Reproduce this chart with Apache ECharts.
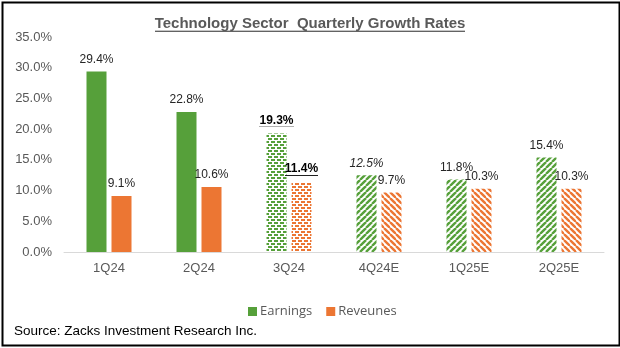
<!DOCTYPE html>
<html>
<head>
<meta charset="utf-8">
<script src="https://cdn.jsdelivr.net/npm/echarts@6/dist/echarts.min.js"></script>
<style>
  html, body { margin: 0; padding: 0; background: #fff; }
  #chart { width: 620px; height: 348px; }
</style>
</head>
<body>
<div id="chart"></div>
<script>
// Quarterly growth rates for the technology sector (%)
const quarters = ['1Q24', '2Q24', '3Q24', '4Q24E', '1Q25E', '2Q25E'];
const earnings = [29.4, 22.8, 19.3, 12.5, 11.8, 15.4];
const revenues = [9.1, 10.6, 11.4, 9.7, 10.3, 10.3];
const yTicks = [0, 5, 10, 15, 20, 25, 30, 35];

// fill style per quarter: reported, current-quarter blend, estimate
const fillKind = ['solid', 'solid', 'dots', 'stripe', 'stripe', 'stripe'];

const GREEN = '#56a03a';
const ORANGE = '#ec7633';

function stripePattern(color, dir) {
  const n = 6;
  const c = document.createElement('canvas');
  c.width = n; c.height = n;
  const ctx = c.getContext('2d');
  ctx.fillStyle = '#fff';
  ctx.fillRect(0, 0, n, n);
  ctx.strokeStyle = color;
  ctx.lineWidth = 2.4;
  for (let k = -n; k <= n; k += n) {
    ctx.beginPath();
    if (dir === '/') { ctx.moveTo(k, n); ctx.lineTo(k + n, 0); }
    else { ctx.moveTo(k, 0); ctx.lineTo(k + n, n); }
    ctx.stroke();
  }
  return { image: c, repeat: 'repeat' };
}

function dotPattern(color) {
  const n = 6;
  const c = document.createElement('canvas');
  c.width = n; c.height = n;
  const ctx = c.getContext('2d');
  ctx.fillStyle = '#fff';
  ctx.fillRect(0, 0, n, n);
  ctx.fillStyle = color;
  [[0, 0], [3, 3], [3, 0], [0, 3]].forEach(([x, y], i) => {
    const dx = (i >= 2) ? 1 : 0;
    ctx.fillRect(x + dx, y, 2, 2);
  });
  return { image: c, repeat: 'repeat' };
}

function underlineImage(color, h, thick) {
  const c = document.createElement('canvas');
  c.width = 8; c.height = h;
  const ctx = c.getContext('2d');
  ctx.fillStyle = color;
  ctx.fillRect(0, h - thick, 8, thick);
  return { image: c };
}

function fillFor(kind, color, dir) {
  if (kind === 'dots') return dotPattern(color);
  if (kind === 'stripe') return stripePattern(color, dir);
  return color;
}

function makeData(values, color, dir) {
  return values.map((v, i) => ({
    value: v,
    itemStyle: { color: fillFor(fillKind[i], color, dir) }
  }));
}

const labelRich = {
  n: { fontFamily: 'Liberation Sans, Arial', fontSize: 12, color: '#262626' },
  b: { fontFamily: 'Liberation Sans, Arial', fontSize: 12, color: '#000', fontWeight: 'bold',
       backgroundColor: underlineImage('#000', 16, 1), padding: [0, 0, 1, 0] },
  i: { fontFamily: 'Liberation Sans, Arial', fontSize: 12, color: '#262626', fontStyle: 'italic' }
};

function labelFormatter(series) {
  return function (p) {
    const txt = p.value.toFixed(1) + '%';
    if (fillKind[p.dataIndex] === 'dots') return '{b|' + txt + '}';
    if (series === 'e' && p.dataIndex === 3) return '{i|' + txt + '}';
    return '{n|' + txt + '}';
  };
}

const chart = echarts.init(document.getElementById('chart'), null, { renderer: 'canvas' });

chart.setOption({
  animation: false,
  backgroundColor: '#fff',
  title: {
    text: '{t|Technology Sector  Quarterly Growth Rates}',
    left: 'center',
    top: 11,
    textStyle: {
      rich: {
        t: { fontFamily: 'Liberation Sans, Arial', fontSize: 15, fontWeight: 'bold', color: '#595959',
             backgroundColor: underlineImage('#595959', 19, 1.5),
             padding: [0, 0, 1, 0] }
      }
    }
  },
  grid: { left: 64, right: 16, top: 37, bottom: 96 },
  legend: {
    top: 300,
    left: 243,
    itemWidth: 9,
    itemHeight: 9,
    itemGap: 14,
    icon: 'rect',
    textStyle: { fontFamily: 'Open Sans, Lato, sans-serif', fontSize: 13, color: '#595959', padding: [0, 0, 0, -2] },
    data: [
      { name: 'Earnings', itemStyle: { color: GREEN } },
      { name: 'Reveunes', itemStyle: { color: ORANGE } }
    ]
  },
  xAxis: {
    type: 'category',
    data: quarters,
    axisLine: { lineStyle: { color: '#d9d9d9', width: 1 } },
    axisTick: { show: false },
    axisLabel: { fontFamily: 'Liberation Sans, Arial', fontSize: 13, color: '#595959', margin: 10 }
  },
  yAxis: {
    type: 'value',
    min: yTicks[0],
    max: yTicks[yTicks.length - 1],
    interval: 5,
    splitLine: { show: false },
    axisLine: { show: false },
    axisTick: { show: false },
    axisLabel: {
      fontFamily: 'Liberation Sans, Arial', fontSize: 13, color: '#595959', margin: 12,
      formatter: v => v.toFixed(1) + '%'
    }
  },
  series: [
    {
      name: 'Earnings',
      type: 'bar',
      barWidth: 20,
      barGap: '25%',
      data: makeData(earnings, GREEN, '/'),
      label: { show: true, position: 'top', distance: 6, formatter: labelFormatter('e'), rich: labelRich }
    },
    {
      name: 'Reveunes',
      type: 'bar',
      barWidth: 20,
      data: makeData(revenues, ORANGE, '\\'),
      label: { show: true, position: 'top', distance: 6, formatter: labelFormatter('r'), rich: labelRich }
    }
  ],
  graphic: [
    {
      type: 'text',
      left: 14,
      top: 324,
      style: { text: 'Source: Zacks Investment Research Inc.', fontFamily: 'Liberation Sans, Arial', fontSize: 13.5, fill: '#000' }
    },
    {
      type: 'rect',
      left: 0, top: 0,
      shape: { x: 1, y: 1, width: 617, height: 343 },
      style: { fill: 'none', stroke: '#000', lineWidth: 2 },
      silent: true
    }
  ]
});
</script>
</body>
</html>
